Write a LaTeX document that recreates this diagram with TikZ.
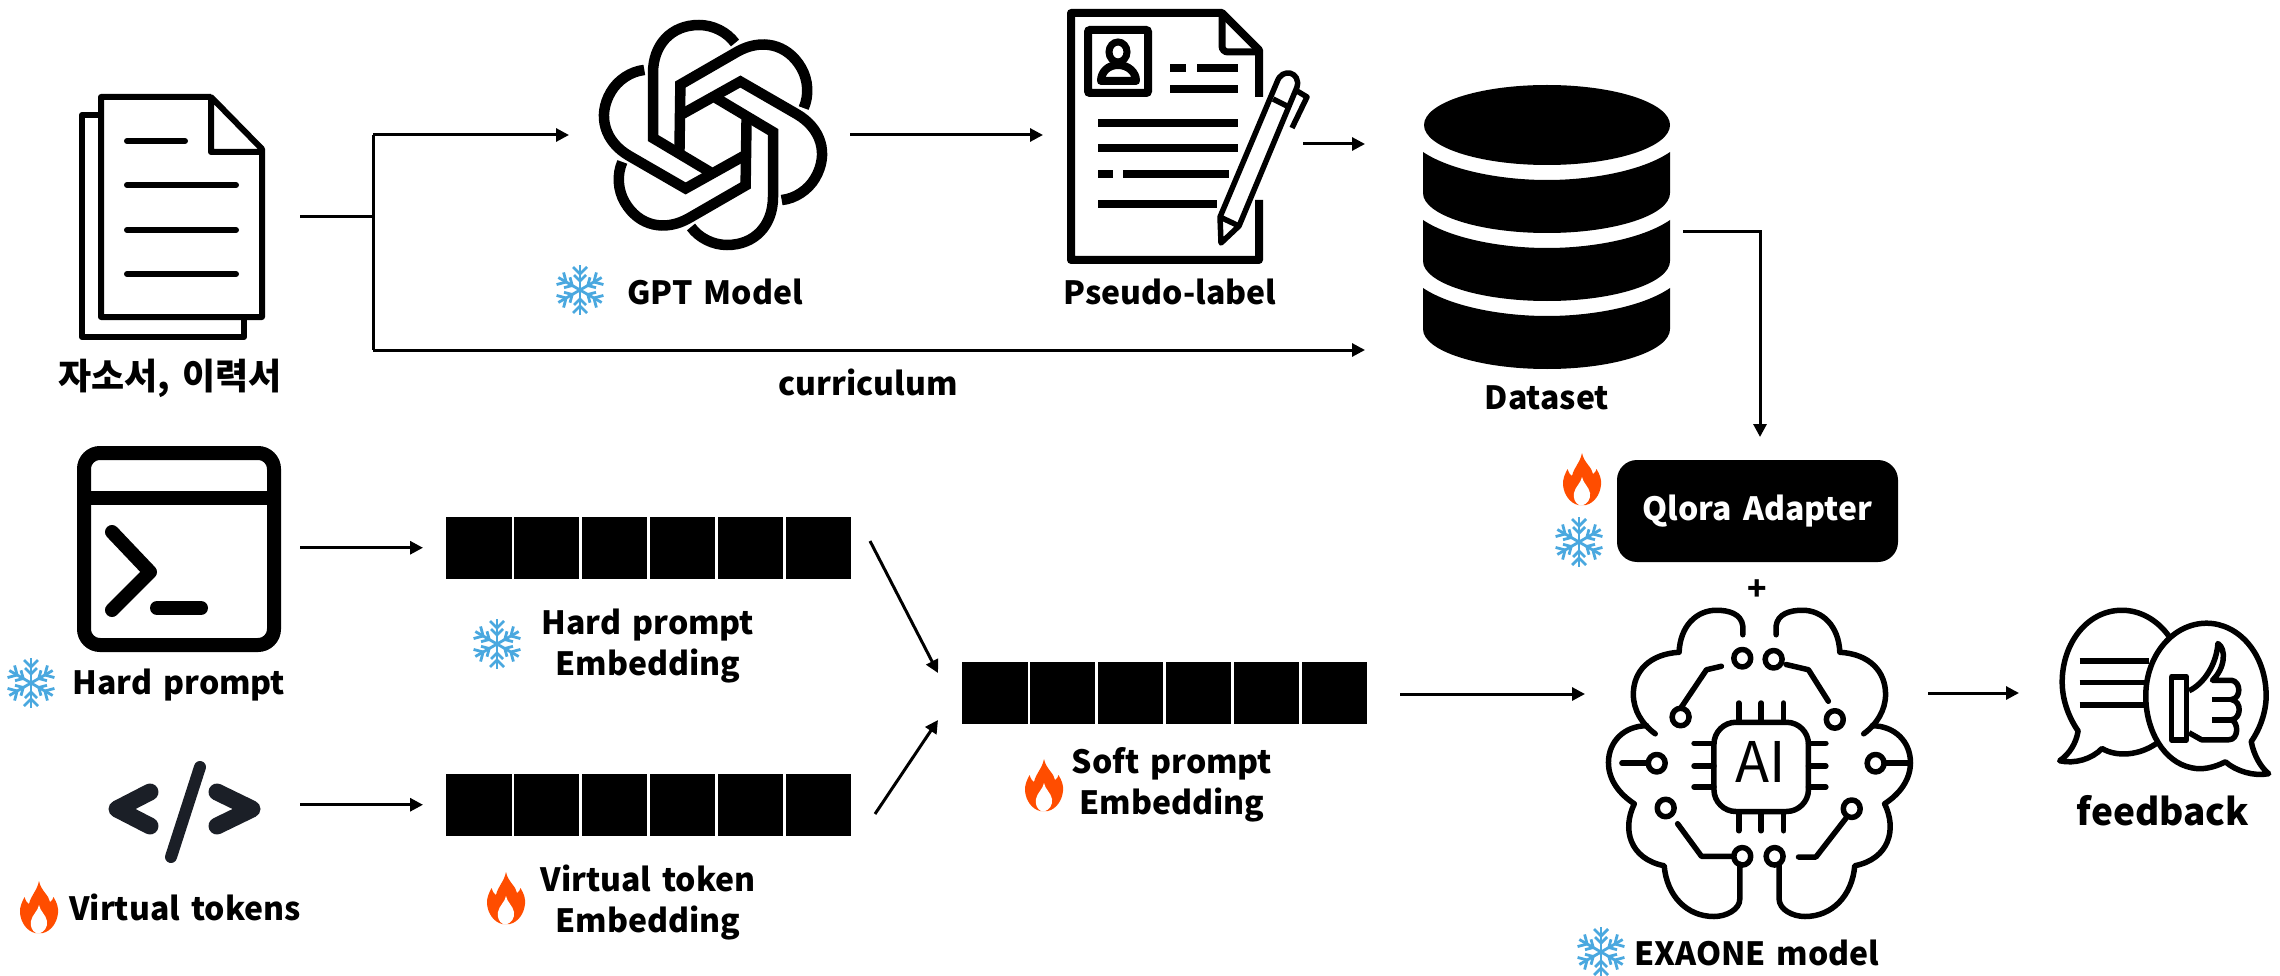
\documentclass[tikz,border=0pt]{standalone}
\usepackage{fontspec}
\setmainfont{Noto Sans CJK KR}[WordSpace=1.5]
\usepackage{tikz}
\usetikzlibrary{arrows.meta, positioning}
\definecolor{colorSnow}{HTML}{4AA8DF}
\definecolor{colorFlame}{HTML}{FF4D00}
\definecolor{colorCode}{HTML}{1B1F27}
\tikzset{
  caption/.style={font=\bfseries\fontsize{32}{41}\selectfont, align=center, inner sep=0pt},
  bigcaption/.style={font=\bfseries\fontsize{37}{41}\selectfont, align=center, inner sep=0pt},
  korean/.style={font=\bfseries\fontsize{36}{41}\selectfont, align=center, inner sep=0pt},
  conn/.style={line width=3pt},
  tip/.style={conn, ->},
  icon/.style={line width=6pt},
  bar/.style={line width=8pt},
  cell/.style={fill=black, minimum width=65.5pt, minimum height=61.5pt, inner sep=0pt, outer sep=0pt},
  snowflake/.pic={
    \foreach \a in {30,90,...,330}{
      \begin{scope}[rotate=\a, colorSnow, line width=2.8pt]
        \draw (0,0) -- (25,0);
        \draw (9,0) -- (15,6) (9,0) -- (15,-6);
        \draw (16,0) -- (23,7) (16,0) -- (23,-7);
      \end{scope}
    }
  },
  flame/.pic={
    \fill[colorFlame] (0,-26) .. controls (2,-16) and (10,-12) .. (11,-5) .. controls (13,-6) and (14,-8) .. (14.5,-10) .. controls (18,-4) and (19.5,0) .. (19,6) .. controls (18,16) and (12,24) .. (4,26) -- (-4,26) .. controls (-12,24) and (-18,16) .. (-19,6) .. controls (-19.5,0) and (-17,-5) .. (-14.5,-10) .. controls (-13,-6) and (-12,-4) .. (-10,-3) .. controls (-8,-12) and (-2,-16) .. (0,-26) -- cycle;
    \fill[white] (0,-2) .. controls (1,4) and (7,8) .. (8,14) .. controls (9,20) and (5,25) .. (1,26) -- (-3,26) .. controls (-7,24) and (-9,19) .. (-8,14) .. controls (-7,8) and (-1,4) .. (0,-2) -- cycle;
  }
}

\begin{document}
\begin{tikzpicture}[x=1pt, y=-1pt, >={Triangle[length=13pt, width=13pt]}]
\useasboundingbox (0,0) rectangle (2280,976);

% documents
\draw[icon, line join=round] (101,115) -- (82,115) -- (82,337) -- (244,337) -- (244,317);
\draw[icon, line join=round] (211,97) -- (101,97) -- (101,317) -- (262,317) -- (262,149) -- (211,97) -- (211,152) -- (262,152);
\foreach \y/\e in {141/185, 185/236, 230/236, 274/236}
  \draw[line width=6pt, line cap=round] (127,\y) -- (\e,\y);
\node[korean] (docLabel) at (170,378) {자소서, 이력서};

% gpt logo
\begin{scope}[shift={(713,135)}, y=1pt]
\foreach \a in {0,60,...,300}
  \draw[line width=10.5pt, rotate=\a] (22,92) .. controls (14,103) and (0,110) .. (-14,110) .. controls (-42,110) and (-60,90) .. (-60,62) -- (-60,-3) -- (-3,-37);
\end{scope}
\pic (snowGpt) at (580,290) {snowflake};
\node[caption] (gptLabel) at (715,292) {GPT Model};

% resume with pen
\draw[line width=8pt, line join=round] (1259,97) -- (1259,50) -- (1222,13) -- (1071,13) -- (1071,260) -- (1259,260) -- (1259,200);
\draw[line width=7pt, rounded corners=6pt] (1222,13) -- (1222,52) -- (1259,52);
\draw[line width=8pt, rounded corners=2pt] (1088,30) rectangle (1148,93);
\draw[line width=7pt] (1118,52) ellipse (9pt and 10pt);
\draw[line width=8pt, line join=round] (1101,81) .. controls (1101,72) and (1108,65) .. (1118,65) .. controls (1128,65) and (1136,72) .. (1136,81) -- cycle;
\foreach \a/\b/\y in {1170/1186/68, 1197/1238/68, 1170/1238/89, 1098/1238/123, 1098/1238/148, 1098/1113/174, 1123/1229/174, 1098/1217/204}
  \draw[bar] (\a,\y) -- (\b,\y);
\draw[line width=5.5pt, line join=round, fill=white] (1221,243) -- (1220,217) -- (1277,82) .. controls (1282,67) and (1301,72) .. (1297,87) -- (1239,226) -- cycle;
\draw[line width=5.5pt] (1220,217) -- (1239,226) (1273,99) -- (1287,106);
\draw[line width=5.5pt, line join=round] (1297,91) -- (1307,97) -- (1292,128);
\node[caption] (pseudoLabel) at (1170,292) {Pseudo-label};

% database
\fill (1547,125) ellipse (123pt and 40pt);
\foreach \t in {152,220,288}
  \fill (1423,\t) .. controls (1450,\t+18) and (1500,\t+28) .. (1547,\t+28) .. controls (1594,\t+28) and (1644,\t+18) .. (1670,\t) -- (1670,\t+41) .. controls (1670,\t+63) and (1615,\t+81) .. (1547,\t+81) .. controls (1479,\t+81) and (1423,\t+63) .. (1423,\t+41) -- cycle;
\node[caption] (dbLabel) at (1547,398) {Dataset};

% terminal
\draw[line width=14pt, rounded corners=16pt] (84,453) rectangle (274,645);
\draw[line width=14pt] (84,498) -- (274,498);
\draw[line width=14pt, line cap=round, line join=round] (112,532) -- (150,572) -- (112,610);
\draw[line width=14pt, line cap=round] (157,608) -- (201,608);
\pic (snowHard) at (31,683) {snowflake};
\node[caption] (hardLabel) at (179,685) {Hard prompt};

% code tag
\draw[colorCode, line width=17pt, line cap=round, line join=round] (150,792) -- (117,809) -- (150,826);
\draw[colorCode, line width=17pt, line cap=round, line join=round] (217,792) -- (252,809) -- (217,826);
\draw[colorCode, line width=12pt, line cap=round] (200,767) -- (171,857);
\pic (flameTok) at (39,907) {flame};
\node[caption] (tokLabel) at (185,907) {Virtual tokens};

% embedding blocks
\node[cell, anchor=north west] (hard1) at (446,517) {};
\node[cell, anchor=north west] (virt1) at (446,774) {};
\node[cell, anchor=north west] (soft1) at (962,662) {};
\foreach \n in {hard, virt, soft}{
  \foreach \i [remember=\i as \p (initially 1)] in {2,...,6}
    \node[cell, right=2.4pt of \n\p] (\n\i) {};
}
\pic (snowHardEmb) at (497,644) {snowflake};
\node[caption] (hardEmbLabel) at (648,646) {Hard prompt\\Embedding};
\pic (flameVirtEmb) at (506,898) {flame};
\node[caption] (virtEmbLabel) at (648,903) {Virtual token\\Embedding};
\pic (flameSoftEmb) at (1044,785) {flame};
\node[caption] (softEmbLabel) at (1172,785) {Soft prompt\\Embedding};

% adapter
\node[fill=black, rounded corners=20pt, minimum width=281pt, minimum height=102pt, text=white, caption] (adapter) at (1757.5,511) {Qlora Adapter};
\pic (flameAdapter) at (1582,479) {flame};
\pic (snowAdapter) at (1579,542) {snowflake};
\node[caption] (plus) at (1757,590) {+};

% brain
\begin{scope}[shift={(1500,430)}, x=.4975pt, y=-.35pt, line width=5.5pt, line cap=round, line join=round]
\foreach \s/\m in {1/0, -1/1043}{
  \begin{scope}[shift={(\m,0)}, xscale=\s]
    \draw (488,585) -- (488,560) .. controls (485,525) and (460,515) .. (435,515) .. controls (395,515) and (362,560) .. (360,635) .. controls (300,640) and (268,690) .. (268,755) .. controls (268,800) and (285,840) .. (312,868);
    \draw (295,845) .. controls (250,845) and (218,890) .. (218,950) .. controls (218,1000) and (240,1040) .. (270,1068) .. controls (245,1140) and (260,1225) .. (330,1245) .. controls (335,1330) and (375,1390) .. (430,1390) .. controls (455,1390) and (482,1370) .. (482,1340) -- (482,1240);
  \end{scope}
}
\draw (363,795) -- (415,685) -- (445,675);
\draw (575,670) -- (620,685) -- (660,775);
\draw (245,952) -- (298,952);
\draw (775,952) -- (825,952);
\draw (357,1125) -- (405,1218) -- (468,1218);
\draw (695,1110) -- (635,1220) -- (600,1220);
\foreach \x/\y in {487/652, 550/655, 363/820, 673/827, 315/952, 755/952, 333/1080, 707/1082, 487/1218, 552/1218}
  \draw (\x,\y) ellipse [x radius=17, y radius=25];
\draw[rounded corners=22pt] (430,835) rectangle (620,1090);
\foreach \x in {480,525,570}
  \draw (\x,780) -- (\x,830) (\x,1095) -- (\x,1145);
\foreach \y in {895,960,1020}
  \draw (390,\y) -- (430,\y) (620,\y) -- (655,\y);
\end{scope}
\node[font=\fontsize{56}{56}\selectfont, inner sep=0pt] (chip) at (1761,762) {AI};
\pic (snowExaone) at (1601,952) {snowflake};
\node[caption] (exaoneLabel) at (1757,953) {EXAONE model};

% feedback bubbles
\begin{scope}[shift={(1500,430)}, x=.4975pt, y=-.35pt, line width=5.5pt, line join=round]
\draw (1345,590) .. controls (1320,540) and (1285,515) .. (1250,515) .. controls (1180,515) and (1130,610) .. (1130,720) .. controls (1130,775) and (1145,825) .. (1162,860) .. controls (1158,895) and (1145,925) .. (1125,945) .. controls (1155,955) and (1190,940) .. (1210,910) .. controls (1240,935) and (1285,930) .. (1320,895);
\foreach \y in {660,722,785}
  \draw (1165,\y) -- (1305,\y);
\draw[fill=white] (1458,948) .. controls (1435,965) and (1410,972) .. (1390,965) .. controls (1335,950) and (1298,860) .. (1298,760) .. controls (1298,640) and (1355,552) .. (1420,552) .. controls (1485,552) and (1540,640) .. (1540,760) .. controls (1540,810) and (1525,860) .. (1510,890) .. controls (1515,930) and (1530,965) .. (1545,982) .. controls (1515,990) and (1480,975) .. (1458,948) -- cycle;
\draw (1350,705) rectangle (1380,885);
\draw (1385,745) .. controls (1415,725) and (1440,670) .. (1443,610) .. controls (1460,625) and (1458,680) .. (1432,715) -- (1470,715) .. controls (1490,718) and (1490,768) .. (1470,770) .. controls (1492,775) and (1490,825) .. (1470,828) .. controls (1485,835) and (1485,885) .. (1465,885) -- (1410,885) -- (1385,865);
\draw (1432,770) -- (1470,770) (1432,828) -- (1470,828);
\end{scope}
\node[bigcaption] (feedbackLabel) at (2163,811) {feedback};

% connector ends
\coordinate (docOut) at (300,217);
\coordinate (docJoin) at (373,217);
\coordinate (gptIn) at (569,135);
\coordinate (gptOut) at (850,135);
\coordinate (resumeIn) at (1043,135);
\coordinate (resumeOut) at (1303,144);
\coordinate (dbInTop) at (1365,144);
\coordinate (dbInLow) at (1365,350);
\coordinate (dbOut) at (1683,232);
\coordinate (adapterIn) at (1760,437);
\coordinate[left=23pt of hard1] (hardIn);
\coordinate[left=23pt of virt1] (virtIn);
\coordinate (termOut) at (300,0 |- hardIn);
\coordinate (codeOut) at (300,0 |- virtIn);
\coordinate (hardOut) at (870,541);
\coordinate (virtOut) at (875,814);
\coordinate (softInTop) at (938,673);
\coordinate (softInLow) at (938,720);
\coordinate (softOut) at (1400,694);
\coordinate (brainIn) at (1585,694);
\coordinate (brainOut) at (1928,693);
\coordinate (chatIn) at (2019,693);

% connectors
\draw[conn] (docOut) -- (docJoin);
\draw[tip] (docJoin |- gptIn) -- (gptIn);
\draw[conn] (docJoin |- gptIn) -- (docJoin |- dbInLow);
\draw[tip] (docJoin |- dbInLow) -- (dbInLow);
\node[caption] (curriculum) at (868,382) {curriculum};
\draw[tip] (gptOut) -- (resumeIn);
\draw[tip] (resumeOut) -- (dbInTop);
\draw[tip] (dbOut) -| (adapterIn);
\draw[tip] (termOut) -- (hardIn);
\draw[tip] (codeOut) -- (virtIn);
\draw[tip] (hardOut) -- (softInTop);
\draw[tip] (virtOut) -- (softInLow);
\draw[tip] (softOut) -- (brainIn);
\draw[tip] (brainOut) -- (chatIn);
\end{tikzpicture}
\end{document}
